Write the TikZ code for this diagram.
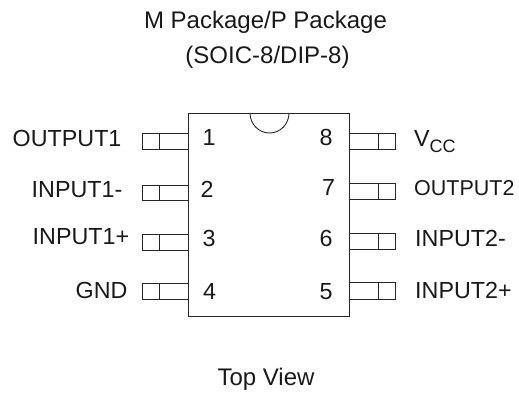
\documentclass[tikz,border=0pt]{standalone}
\usepackage{fontspec}
\setmainfont{Liberation Sans}
\tikzset{
  ln/.style={draw=black!85,line width=0.9pt},
  lab/.style={inner sep=0pt,text=black!90,font=\fontsize{23.3}{26}\selectfont,anchor=base west},
  num/.style={inner sep=0pt,text=black!90,font=\fontsize{23.3}{26}\selectfont,anchor=base},
  ttl/.style={inner sep=0pt,text=black!90,font=\fontsize{24}{27}\selectfont,anchor=base},
}
\newcommand{\lpin}[2]{\draw[ln] (188,#1) -- (142,#1) -- (142,#2) -- (188,#2) (159.5,#1) -- (159.5,#2);}
\newcommand{\rpin}[2]{\draw[ln] (349.5,#1) -- (395.5,#1) -- (395.5,#2) -- (349.5,#2) (378,#1) -- (378,#2);}
\begin{document}
\begin{tikzpicture}[x=1pt,y=-1pt]
\useasboundingbox (0,0) rectangle (519,394);
\draw[ln] (188,113) rectangle (349.5,316);
\draw[ln] (250,113) arc[start angle=180,end angle=360,x radius=19.5,y radius=-20];
\lpin{133}{149}
\lpin{185}{200.5}
\lpin{234}{250.5}
\lpin{283}{299}
\rpin{133}{149}
\rpin{183}{199}
\rpin{233.5}{249.5}
\rpin{282.5}{299}
\node[ttl] (t1) at (265.5,28) {M Package/P Package};
\node[ttl] (t2) at (267.5,63) {(SOIC-8/DIP-8)};
\node[ttl] (t3) at (266,385) {Top View};
\node[lab] (l1) at (12.5,146) {OUTPUT1};
\node[lab] (l2) at (31.5,197.5) {INPUT1-};
\node[lab] (l3) at (32.5,244.5) {INPUT1+};
\node[lab] (l4) at (75.5,298.5) {GND};
\node[num] (n1) at (209,145) {1};
\node[num] (n2) at (207,197) {2};
\node[num] (n3) at (209,246.5) {3};
\node[num] (n4) at (209.5,299) {4};
\node[num] (n8) at (326,145) {8};
\node[num] (n7) at (328.5,195) {7};
\node[num] (n6) at (326,246.5) {6};
\node[num] (n5) at (326,299) {5};
\node[lab] (r8) at (414,146) {V\raisebox{-6.7pt}{\fontsize{18}{20}\selectfont CC}};
\node[lab,font=\fontsize{21.5}{24}\selectfont] (r7) at (414,195) {OUTPUT2};
\node[lab] (r6) at (415,246.5) {INPUT2-};
\node[lab] (r5) at (415,298.5) {INPUT2+};
\end{tikzpicture}
\end{document}
